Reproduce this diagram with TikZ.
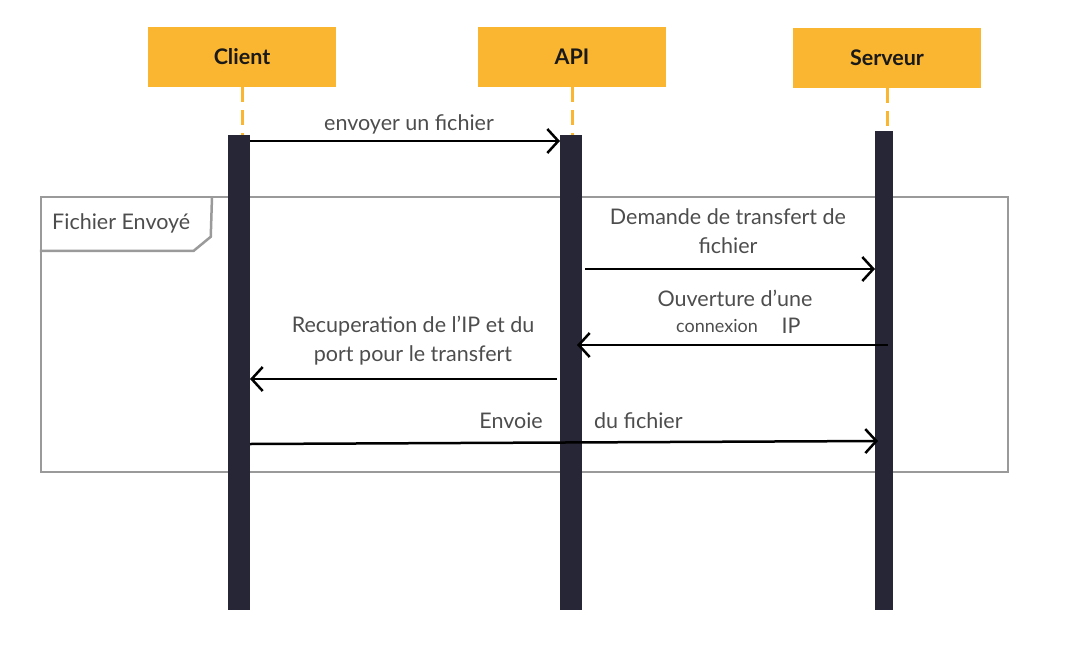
\documentclass[tikz,border=0pt]{standalone}
\usepackage{fontspec}
\setmainfont{Lato}
\usetikzlibrary{arrows.meta}
\definecolor{hdr}{HTML}{FBB631}
\definecolor{barc}{HTML}{262636}
\definecolor{frm}{HTML}{9A9A9A}
\definecolor{txt}{HTML}{4D4D4D}
\newcommand{\apos}{\symbol{39}}
\begin{document}
\begin{tikzpicture}[x=1pt,y=-1pt,
 head/.style={fill=hdr, minimum width=188, minimum height=60, inner sep=0, font=\fontsize{21.5}{25}\selectfont\bfseries, text=black!90},
 lifebar/.style={fill=barc, draw=none, inner sep=0, minimum width=22},
 life/.style={draw=hdr, line width=3, dash pattern=on 15 off 8},
 msg/.style={draw=black, line width=2.5, -{Straight Barb[length=11,width=24,line width=2.5]}},
 lbl/.style={text=txt, font=\fontsize{21.5}{29}\selectfont, align=center, inner sep=0},
 small/.style={text=txt, font=\fontsize{18}{21}\selectfont, inner sep=0}
]
\useasboundingbox (0,0) rectangle (1072,646);
% headers
\node[head] (hc) at (242,57) {Client};
\node[head] (ha) at (572,57) {API};
\node[head] (hs) at (887,58) {Serveur};
% frame
\node[draw=frm, line width=2.5, minimum width=967, minimum height=275, inner sep=0] (frame) at (524.5,334.5) {};
\draw[frm, line width=2.5] (frame.north west) ++(0,55) -- ++(154,0) -- ++(17,-14) -- (212,197);
\node[text=txt, font=\fontsize{21.5}{25}\selectfont, anchor=west, inner sep=0] (ftitle) at (52,223) {Fichier Envoyé};
% activation bars
\node[lifebar, minimum height=475] (cb) at (239,372.5) {};
\node[lifebar, minimum height=475] (ab) at (571,372.5) {};
\node[lifebar, minimum width=18, minimum height=479] (sb) at (884,370.5) {};
% lifelines
\draw[life] (hc.south) -- (hc.south |- cb.north);
\draw[life] (ha.south) -- (ha.south |- ab.north);
\draw[life] (hs.south) -- (hs.south |- sb.north);
% messages
\coordinate (m1s) at (250,141); \coordinate (m1e) at (560,141);
\draw[msg] (m1s) -- (m1e);
\node[lbl] (l1) at (409,124) {envoyer un fichier};
\coordinate (m2s) at (585,269); \coordinate (m2e) at (875,269);
\draw[msg] (m2s) -- (m2e);
\node[lbl] (l2) at (728,231) {Demande de transfert de\\fichier};
\coordinate (m3s) at (888,345); \coordinate (m3e) at (577,345);
\draw[msg] (m3s) -- (m3e);
\node[lbl] (l3) at (735,298) {Ouverture d\apos une};
\node[small] (l3b) at (717,326) {connexion};
\node[lbl] (l3c) at (791,326) {IP};
\coordinate (m4s) at (557,379); \coordinate (m4e) at (250,379);
\draw[msg] (m4s) -- (m4e);
\node[lbl] (l4) at (413,341) {Recuperation de l\apos IP et du\\port pour le transfert};
\coordinate (m5s) at (250,444); \coordinate (m5e) at (878,441);
\draw[msg] (m5s) -- (m5e);
\node[lbl, anchor=east] (l5a) at (543,421) {Envoie};
\node[lbl, anchor=west] (l5b) at (594,421) {du fichier};
\end{tikzpicture}
\end{document}
